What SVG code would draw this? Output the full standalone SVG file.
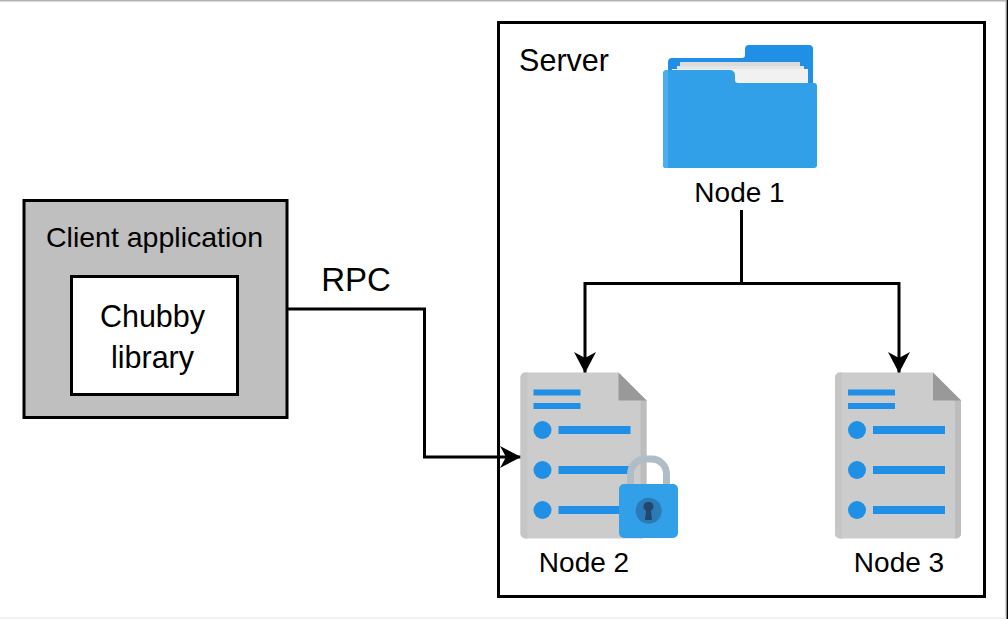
<svg xmlns="http://www.w3.org/2000/svg" width="1008" height="619" viewBox="0 0 1008 619">
<style>
text{font-family:"Liberation Sans",Arial,sans-serif;fill:#000;text-anchor:middle}
.n{font-size:28px}.b{font-size:30.500px}
.box{stroke:#000;stroke-width:3}
.c{fill:none;stroke:#000;stroke-width:3}
.blue{fill:#2090e6}
</style>
<defs>
<g id="doc">
<path d="M6 0H98L126 28V161a5 5 0 0 1-5 5H5a5 5 0 0 1-5-5V5a5 5 0 0 1 5-5Z" fill="#cccccc"/>
<path d="M5 0H7V166H5a5 5 0 0 1-5-5V5a5 5 0 0 1 5-5Z" fill="#c6c6c6"/>
<path d="M120 22L126 28V161a5 5 0 0 1-5 5H120Z" fill="#bdbdbd"/>
<path d="M98 0L126 28H98Z" fill="#999999"/>
<rect class="blue" x="13" y="17" width="47" height="6"/>
<rect class="blue" x="13" y="30.500" width="47" height="6"/>
<circle class="blue" cx="22" cy="57.500" r="9"/><rect class="blue" x="38" y="53.500" width="72" height="8"/>
<circle class="blue" cx="22" cy="97.500" r="9"/><rect class="blue" x="38" y="93.500" width="72" height="8"/>
<circle class="blue" cx="22" cy="137.500" r="9"/><rect class="blue" x="38" y="133.500" width="72" height="8"/>
</g>
<marker id="a" markerUnits="userSpaceOnUse" markerWidth="24" markerHeight="24" refX="21" refY="12" orient="auto"><path d="M0 1L21 12L0 23L6 12Z" fill="#000"/></marker>
</defs>
<rect width="1008" height="619" fill="#fff"/>
<g id="frame">
<rect x="0" y="0" width="1006" height="1.500" fill="#b4b4b4"/>
<rect x="1005.500" y="0" width="1.200" height="619" fill="#b4b4b4"/>
<rect x="1006.700" y="0" width="1.300" height="619" fill="#000"/>
<rect x="0" y="617.500" width="1006" height="1" fill="#e6e6e6"/>
</g>
<g id="server"><rect class="box" x="498.500" y="22.500" width="486" height="574" fill="#fff"/><text class="b" x="564" y="71">Server</text></g>
<g id="client"><rect class="box" x="24" y="200.500" width="263" height="217" fill="#bfbfbf"/><text x="154.500" y="247" style="font-size:28.500px">Client application</text></g>
<g id="library"><rect class="box" x="71.500" y="276.500" width="166" height="118" fill="#fff"/><text class="b" x="152.500" y="327">Chubby</text><text class="b" x="152.500" y="368">library</text></g>
<g id="connectors">
<path class="c" d="M287 309H424.500V457H521" marker-end="url(#a)"/>
<path class="c" d="M741.500 210V283.500H585V373" marker-end="url(#a)"/>
<path class="c" d="M741.500 283.500H899V373" marker-end="url(#a)"/>
</g>
<text x="356" y="291" style="font-size:33px">RPC</text>
<g id="node1">
<path d="M668 62a4 4 0 0 1 4-4H742a3 3 0 0 0 3-3V49a4 4 0 0 1 4-4H809a4 4 0 0 1 4 4V90H668Z" fill="#2090e6"/>
<path d="M680 62H800V90H680Z" fill="#dcdcdc"/>
<path d="M677 66H804V90H677Z" fill="#e6e6e6"/>
<path d="M672 69H808V90H672Z" fill="#f1f1f1"/>
<path d="M663 74a4 4 0 0 1 4-4H730a5 5 0 0 1 5 5V80a3 3 0 0 0 3 3H814a3 3 0 0 1 3 3V165a3 3 0 0 1-3 3H666a3 3 0 0 1-3-3Z" fill="#32a0e8"/>
<path d="M663 74a4 4 0 0 1 4-4H668V168H666a3 3 0 0 1-3-3Z" fill="#4cafec"/>
<text class="n" x="739.500" y="202">Node 1</text>
</g>
<g id="node2">
<use href="#doc" transform="translate(520.500 372.500)"/>
<path d="M630.500 490V474a15 15 0 0 1 15-15H651.500a15 15 0 0 1 15 15V490" fill="none" stroke="#b0bcc6" stroke-width="7"/>
<rect x="619" y="484" width="59" height="54" rx="5" fill="#32a0e8"/>
<circle cx="648.700" cy="510.700" r="13" fill="#2a7cb8"/>
<path d="M648.500 502a4.500 4.500 0 0 1 2.500 8.500L652 520H645L646 510.500a4.500 4.500 0 0 1 2.500-8.500Z" fill="#24466e"/>
<text class="n" x="584" y="572">Node 2</text>
</g>
<g id="node3">
<use href="#doc" transform="translate(835 372.500)"/>
<text class="n" x="899" y="572">Node 3</text>
</g>
</svg>
